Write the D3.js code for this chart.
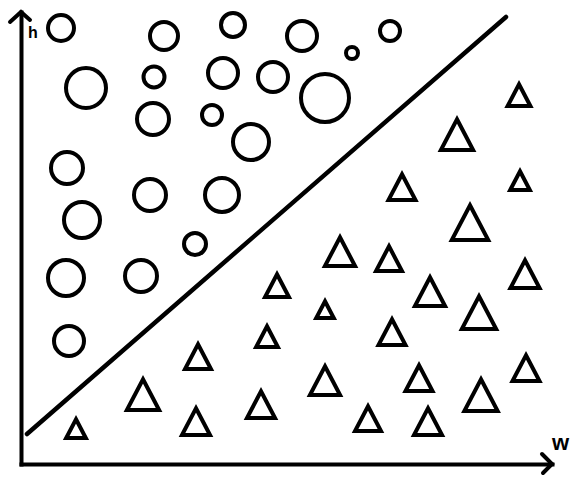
<!DOCTYPE html>
<html>
<head>
<meta charset="utf-8">
<script src="https://cdn.jsdelivr.net/npm/d3@7"></script>
<style>
  html, body { margin: 0; padding: 0; background: #fff; }
  svg { display: block; }
</style>
</head>
<body>
<svg id="chart" width="578" height="488"></svg>
<script>
// ---- data (w = horizontal value, h = vertical value, sizes in the same units) ----
const circleW = [40, 143, 212, 281, 369, 331, 65, 133, 202, 252, 304, 132, 191, 230, 46, 129, 201, 61, 174, 45, 120, 48];
const circleH = [436, 428, 439, 428, 433, 411, 376, 387, 391, 387, 366, 345, 349, 322, 296, 269, 269, 244, 220, 186, 188, 123];
const circleSize = [15, 16, 14, 17, 12, 8, 22, 12.5, 17, 17, 26, 18, 12, 20, 18, 18, 19, 20, 13, 20, 18, 17];

const triangleW = [498, 436, 381, 499, 449, 319, 368, 504, 409, 304, 458, 371, 304, 398, 505, 460, 347, 407, 256, 246, 177, 122, 175, 240, 55];
const triangleH = [356, 312, 262, 272, 222, 196, 191, 174, 156, 144, 133, 117, 67, 71, 81, 51, 31, 27, 165, 115, 93, 52, 27, 44, 24];
const triangleSize = [28, 37, 32, 25, 41, 35, 31, 34, 35, 23, 39, 32, 35, 32, 32, 38, 31, 33, 29, 27, 31, 37, 33, 33, 25];

const boundaryW = [6, 485];
const boundaryH = [30, 447];

const axisLabels = ["w", "h"];

// ---- scales ----
const x = d3.scaleLinear().domain([0, 531]).range([21, 552]);
const y = d3.scaleLinear().domain([0, 452]).range([464, 12]);
const unit = v => x(v) - x(0);

const svg = d3.select("#chart");
const STROKE = 4;

// ---- axes ----
const gx = svg.append("g").attr("transform", `translate(0,${y(0)})`)
  .call(d3.axisBottom(x).tickValues([]).tickSizeOuter(0));
const gy = svg.append("g").attr("transform", `translate(${x(0)},0)`)
  .call(d3.axisLeft(y).tickValues([]).tickSizeOuter(0));
[gx, gy].forEach(g => g.select(".domain")
  .attr("stroke", "#000").attr("stroke-width", STROKE).attr("stroke-linecap", "square"));

// arrowheads
const [x0, x1] = x.range();
const [y0, y1] = y.range();
svg.append("path")
  .attr("d", `M${x1 - 10},${y0 - 10}L${x1},${y0}L${x1 - 9},${y0 + 9}`)
  .attr("fill", "none").attr("stroke", "#000").attr("stroke-width", STROKE)
  .attr("stroke-linecap", "round").attr("stroke-linejoin", "miter");
svg.append("path")
  .attr("d", `M${x0 - 11},${y1 + 10}L${x0},${y1}L${x0 + 9},${y1 + 8}`)
  .attr("fill", "none").attr("stroke", "#000").attr("stroke-width", STROKE)
  .attr("stroke-linecap", "round").attr("stroke-linejoin", "miter");

// axis labels
svg.append("text").attr("x", x1).attr("y", y0 - 14)
  .attr("font-family", "Liberation Sans, Arial, sans-serif").attr("font-weight", "bold")
  .attr("font-size", 22).attr("fill", "#000").text(axisLabels[0]);
svg.append("text").attr("x", x0 + 7).attr("y", y1 + 26)
  .attr("font-family", "Liberation Sans, Arial, sans-serif").attr("font-weight", "bold")
  .attr("font-size", 16).attr("fill", "#000").text(axisLabels[1]);

// ---- boundary line ----
svg.append("line")
  .attr("x1", x(boundaryW[0])).attr("y1", y(boundaryH[0]))
  .attr("x2", x(boundaryW[1])).attr("y2", y(boundaryH[1]))
  .attr("stroke", "#000").attr("stroke-width", 4.5).attr("stroke-linecap", "round");

// ---- circles ----
const circles = circleW.map((w, i) => ({ w, h: circleH[i], s: circleSize[i] }));
svg.append("g").selectAll("circle").data(circles).join("circle")
  .attr("cx", d => x(d.w)).attr("cy", d => y(d.h))
  .attr("r", d => unit(d.s) - STROKE / 2)
  .attr("fill", "#fff").attr("stroke", "#000").attr("stroke-width", STROKE);

// ---- triangles (w = centre, h = base, size = outer height) ----
const triangles = triangleW.map((w, i) => ({ w, h: triangleH[i], s: triangleSize[i] }));
function triPath(d) {
  const cx = x(d.w), by = y(d.h);
  const H = unit(d.s), W = H * 1.05;
  const half = W / 2;
  const th = Math.atan(half / H);
  const apexInset = (STROKE / 2) / Math.sin(th);
  const baseAng = (Math.PI / 2 - th) / 2;
  const baseInsetX = (STROKE / 2) / Math.tan(baseAng);
  const top = by - H + apexInset;
  const bot = by - STROKE / 2;
  const hx = half - baseInsetX;
  return `M${cx},${top}L${cx + hx},${bot}L${cx - hx},${bot}Z`;
}
svg.append("g").selectAll("path").data(triangles).join("path")
  .attr("d", triPath)
  .attr("fill", "#fff").attr("stroke", "#000").attr("stroke-width", STROKE)
  .attr("stroke-linejoin", "miter");
</script>
</body>
</html>
